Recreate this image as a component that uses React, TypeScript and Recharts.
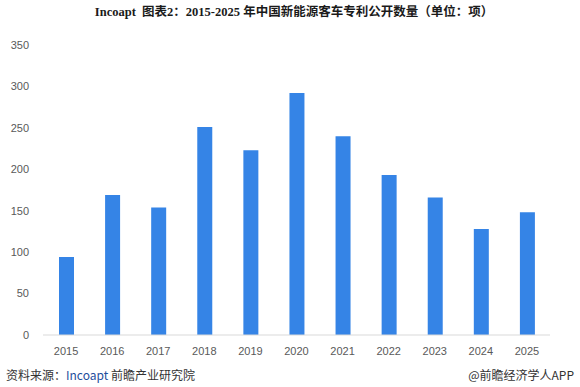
import React from "react";
import { BarChart, Bar, XAxis, YAxis } from "recharts";

const years = ["2015", "2016", "2017", "2018", "2019", "2020", "2021", "2022", "2023", "2024", "2025"];
const patents = [94, 169, 154, 251, 223, 292, 240, 193, 166, 128, 148];
const yTicks = [0, 50, 100, 150, 200, 250, 300, 350];

const data = years.map((y, i) => ({ year: y, value: patents[i] }));

export default function App() {
  return (
    <div style={{ position: "absolute", left: 0, top: 0, width: 580, height: 387, background: "#fff", overflow: "hidden" }}>
      <div
        style={{
          position: "absolute",
          left: 4,
          top: 4,
          width: 580,
          textAlign: "center",
          fontFamily: "'Liberation Serif', 'Noto Sans CJK SC', serif",
          fontWeight: "bold",
          fontSize: 12.5,
          color: "#1a1a1a",
          lineHeight: "16px",
        }}
      >
        Incoapt&nbsp; 图表2：2015-2025 年中国新能源客车专利公开数量（单位：项）
      </div>
      <BarChart
        width={580}
        height={387}
        data={data}
        margin={{ top: 45, right: 30, bottom: 22, left: 0 }}
        barCategoryGap={0}
      >
        <YAxis
          width={43}
          domain={[0, 350]}
          ticks={yTicks}
          axisLine={false}
          tickLine={false}
          interval={0}
          tick={{ fill: "#595959", fontSize: 11, fontFamily: "'Liberation Sans', Arial, sans-serif" }}
          tickMargin={8}
        />
        <XAxis
          dataKey="year"
          axisLine={{ stroke: "#d9d9d9" }}
          tickLine={false}
          interval={0}
          tick={{ fill: "#595959", fontSize: 11, fontFamily: "'Liberation Sans', Arial, sans-serif" }}
          tickMargin={6}
        />
        <Bar dataKey="value" fill="#3584e6" barSize={15} isAnimationActive={false} />
      </BarChart>
      <div
        style={{
          position: "absolute",
          left: 6,
          top: 368,
          fontFamily: "'Noto Sans CJK SC', sans-serif",
          fontSize: 12,
          color: "#333",
          lineHeight: "14px",
        }}
      >
        资料来源：<span style={{ color: "#1f4e9c" }}>Incoapt</span> 前瞻产业研究院
      </div>
      <div
        style={{
          position: "absolute",
          right: 6,
          top: 368,
          fontFamily: "'Noto Sans CJK SC', sans-serif",
          fontSize: 12,
          color: "#333",
          lineHeight: "14px",
        }}
      >
        @前瞻经济学人APP
      </div>
    </div>
  );
}
